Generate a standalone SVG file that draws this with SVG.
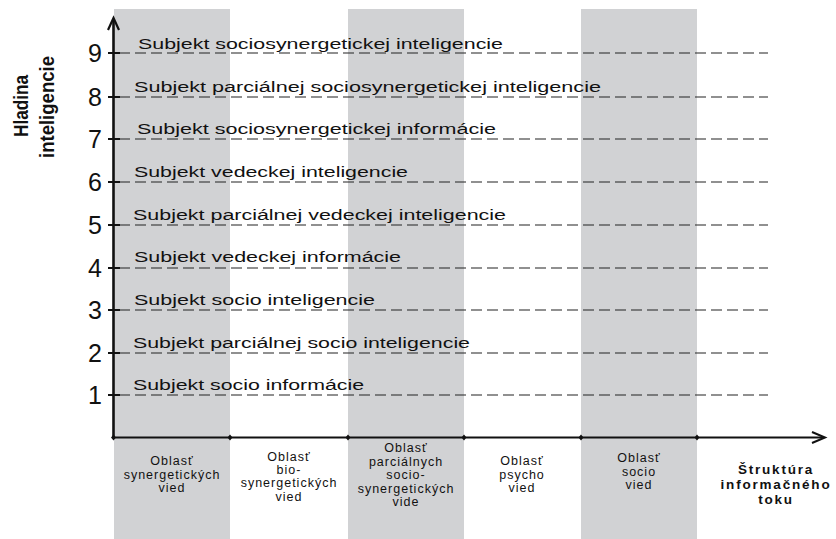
<svg xmlns="http://www.w3.org/2000/svg" width="836" height="539" viewBox="0 0 836 539">
<style>
.band{fill:#d1d2d4}
.dash{stroke:#222;stroke-width:1.2;stroke-dasharray:11 5;fill:none}
.axis{stroke:#111;fill:none}
.tick{stroke:#111;stroke-width:2}
.num{font-family:"Liberation Sans",Arial,sans-serif;font-size:25px;fill:#111;text-anchor:end}
.lbl{font-family:"Liberation Sans",Arial,sans-serif;font-size:15.5px;fill:#111}
.col{font-family:"Liberation Sans",Arial,sans-serif;font-size:12.5px;fill:#111;text-anchor:middle;letter-spacing:1px}
.ttl{font-family:"Liberation Sans Narrow","Liberation Sans",Arial,sans-serif;font-size:21px;font-weight:bold;fill:#111;text-anchor:middle}
.flow{font-family:"Liberation Sans",Arial,sans-serif;font-size:13.5px;font-weight:bold;fill:#111;text-anchor:middle;letter-spacing:1.8px}
</style>
<defs>
<path id="dia" d="M0,-3 L2.5,0 L0,3 L-2.5,0 Z" fill="#111"/>
</defs>
<rect width="836" height="539" fill="#fff"/>
<g id="bands">
<rect class="band" x="114" y="9" width="116" height="530"/>
<rect class="band" x="348" y="9" width="116" height="530"/>
<rect class="band" x="581" y="9" width="116" height="530"/>
</g>
<g id="title">
<text class="ttl" transform="translate(28,106) rotate(-90)" textLength="62" lengthAdjust="spacingAndGlyphs">Hladina</text>
<text class="ttl" transform="translate(54,107) rotate(-90)" textLength="102" lengthAdjust="spacingAndGlyphs">inteligencie</text>
</g>
<g id="connectors">
<g id="gridlines">
<line class="dash" x1="119" y1="53" x2="768" y2="53"/>
<line class="dash" x1="119" y1="97" x2="768" y2="97"/>
<line class="dash" x1="119" y1="139" x2="768" y2="139"/>
<line class="dash" x1="119" y1="182" x2="768" y2="182"/>
<line class="dash" x1="119" y1="225" x2="768" y2="225"/>
<line class="dash" x1="119" y1="268" x2="768" y2="268"/>
<line class="dash" x1="119" y1="310" x2="768" y2="310"/>
<line class="dash" x1="119" y1="353" x2="768" y2="353"/>
<line class="dash" x1="119" y1="395" x2="768" y2="395"/>
</g>
<line class="axis" x1="113.5" y1="438" x2="113.5" y2="19" stroke-width="2.6"/>
<polyline class="axis" points="108,30 113.5,18 119,30" stroke-width="2.2"/>
<line class="axis" x1="113" y1="437.5" x2="824" y2="437.5" stroke-width="2"/>
<polyline class="axis" points="812,432 825,437.5 812,443" stroke-width="2"/>
<g id="yticks">
<line class="tick" x1="108" y1="53" x2="120" y2="53"/>
<line class="tick" x1="108" y1="97" x2="120" y2="97"/>
<line class="tick" x1="108" y1="139" x2="120" y2="139"/>
<line class="tick" x1="108" y1="182" x2="120" y2="182"/>
<line class="tick" x1="108" y1="225" x2="120" y2="225"/>
<line class="tick" x1="108" y1="268" x2="120" y2="268"/>
<line class="tick" x1="108" y1="310" x2="120" y2="310"/>
<line class="tick" x1="108" y1="353" x2="120" y2="353"/>
<line class="tick" x1="108" y1="395" x2="120" y2="395"/>
</g>
<g id="xticks">
<use href="#dia" x="113.5" y="437.5"/>
<use href="#dia" x="230" y="437.5"/>
<use href="#dia" x="348" y="437.5"/>
<use href="#dia" x="464" y="437.5"/>
<use href="#dia" x="581" y="437.5"/>
<use href="#dia" x="697" y="437.5"/>
</g>
</g>
<g id="numbers">
<text class="num" x="102" y="62">9</text>
<text class="num" x="102" y="106">8</text>
<text class="num" x="102" y="148">7</text>
<text class="num" x="102" y="191">6</text>
<text class="num" x="102" y="234">5</text>
<text class="num" x="102" y="277">4</text>
<text class="num" x="102" y="319">3</text>
<text class="num" x="102" y="362">2</text>
<text class="num" x="102" y="404">1</text>
</g>
<g id="level9"><text class="lbl" x="138" y="49" textLength="365" lengthAdjust="spacingAndGlyphs">Subjekt sociosynergetickej inteligencie</text></g>
<g id="level8"><text class="lbl" x="134" y="92" textLength="467" lengthAdjust="spacingAndGlyphs">Subjekt parciálnej sociosynergetickej inteligencie</text></g>
<g id="level7"><text class="lbl" x="137" y="134" textLength="359" lengthAdjust="spacingAndGlyphs">Subjekt sociosynergetickej informácie</text></g>
<g id="level6"><text class="lbl" x="134" y="177" textLength="274" lengthAdjust="spacingAndGlyphs">Subjekt vedeckej inteligencie</text></g>
<g id="level5"><text class="lbl" x="133" y="220" textLength="373" lengthAdjust="spacingAndGlyphs">Subjekt parciálnej vedeckej inteligencie</text></g>
<g id="level4"><text class="lbl" x="134" y="262" textLength="267" lengthAdjust="spacingAndGlyphs">Subjekt vedeckej informácie</text></g>
<g id="level3"><text class="lbl" x="134" y="305" textLength="241" lengthAdjust="spacingAndGlyphs">Subjekt socio inteligencie</text></g>
<g id="level2"><text class="lbl" x="133" y="348" textLength="337" lengthAdjust="spacingAndGlyphs">Subjekt parciálnej socio inteligencie</text></g>
<g id="level1"><text class="lbl" x="133" y="390" textLength="231" lengthAdjust="spacingAndGlyphs">Subjekt socio informácie</text></g>
<g id="col1">
<text class="col" x="172" y="465">Oblasť</text>
<text class="col" x="172" y="479">synergetických</text>
<text class="col" x="172" y="492">vied</text>
</g>
<g id="col2">
<text class="col" x="289" y="461">Oblasť</text>
<text class="col" x="289" y="474">bio-</text>
<text class="col" x="289" y="487">synergetických</text>
<text class="col" x="289" y="501">vied</text>
</g>
<g id="col3">
<text class="col" x="406" y="452">Oblasť</text>
<text class="col" x="406" y="466">parciálnych</text>
<text class="col" x="406" y="479">socio-</text>
<text class="col" x="406" y="493">synergetických</text>
<text class="col" x="406" y="506">vide</text>
</g>
<g id="col4">
<text class="col" x="522" y="465">Oblasť</text>
<text class="col" x="522" y="479">psycho</text>
<text class="col" x="522" y="492">vied</text>
</g>
<g id="col5">
<text class="col" x="639" y="462">Oblasť</text>
<text class="col" x="639" y="476">socio</text>
<text class="col" x="639" y="489">vied</text>
</g>
<g id="flow">
<text class="flow" x="776" y="474">Štruktúra</text>
<text class="flow" x="776" y="489">informačného</text>
<text class="flow" x="776" y="504">toku</text>
</g>
</svg>
